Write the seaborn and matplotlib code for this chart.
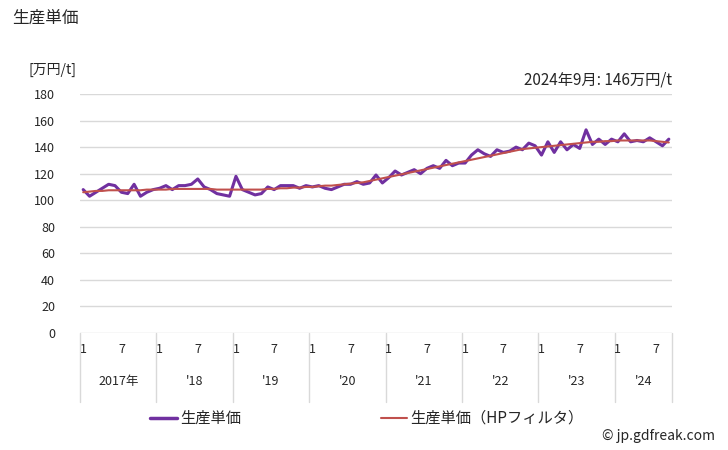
import numpy as np
import pandas as pd
import matplotlib
matplotlib.use('Agg')
import matplotlib.pyplot as plt
import seaborn as sns

# monthly unit price, Jan 2017 - Sep 2024 [万円/t]
price = [
    108, 103, 106, 109, 112, 111, 106, 105, 112, 103, 106, 108,   # 2017
    109, 111, 108, 111, 111, 112, 116, 110, 108, 105, 104, 103,   # 2018
    118, 108, 106, 104, 105, 110, 108, 111, 111, 111, 109, 111,   # 2019
    110, 111, 109, 108, 110, 112, 112, 114, 112, 113, 119, 113,   # 2020
    117, 122, 119, 121, 123, 120, 124, 126, 124, 130, 126, 128,   # 2021
    128, 134, 138, 135, 133, 138, 136, 137, 140, 138, 143, 141,   # 2022
    134, 144, 136, 144, 138, 142, 139, 153, 142, 146, 142, 146,   # 2023
    144, 150, 144, 145, 144, 147, 144, 141, 146,                  # 2024
]
# HP filter trend
trend = [
    106, 106.5, 107, 107, 107.5, 107.5, 107.5, 107.5, 107.5, 107.5, 108, 108,
    108, 108, 108.5, 108.5, 108.5, 108.5, 108.5, 108.5, 108.5, 108, 108, 108,
    108, 108, 108, 108, 108, 108.5, 108.5, 109, 109, 109.5, 109.5, 110,
    110, 110.5, 111, 111, 111.5, 112, 112.5, 113, 113.5, 114.5, 115.5, 116.5,
    117.5, 118.5, 119.5, 120.5, 121.5, 122.5, 123.5, 124.5, 125.5, 126.5, 127.5, 128.5,
    129.5, 130.5, 131.5, 132.5, 133.5, 134.5, 135.5, 136.5, 137.5, 138.5, 139, 139.5,
    140, 140.5, 141, 141.5, 142, 142.5, 143, 143.5, 144, 144, 144.5, 144.5,
    145, 145, 145, 145, 145, 145, 144.5, 144, 143.5,
]
year_labels = ['2017年', "'18", "'19", "'20", "'21", "'22", "'23", "'24"]
month_ticks = ['1', '7']

n = len(price)
df = pd.DataFrame({'idx': np.arange(n), 'price': price, 'trend': trend})

sns.set_style('white')
plt.rcParams['font.family'] = ['Noto Sans CJK JP', 'DejaVu Sans']

fig = plt.figure(figsize=(7.28, 4.5), dpi=100)
ax = fig.add_axes([80 / 728, 1 - 333 / 450, (672 - 80) / 728, (333 - 94) / 450])

sns.lineplot(data=df, x='idx', y='price', ax=ax, color='#7030A0', linewidth=2.2, zorder=3)
sns.lineplot(data=df, x='idx', y='trend', ax=ax, color='#C0504D', linewidth=1.5, zorder=4)

ax.set_xlim(-0.5, n - 0.5)
ax.set_ylim(0, 180)
ax.set_yticks(range(0, 181, 20))
ax.tick_params(axis='y', length=0, labelsize=9, pad=18)
ax.yaxis.grid(True, color='#d9d9d9', linewidth=1)
ax.set_axisbelow(True)
for s in ax.spines.values():
    s.set_visible(False)
ax.set_xlabel('')
ax.set_ylabel('')

# month ticks and year labels
ax.set_xticks([])
tr = ax.get_xaxis_transform()
for y in range(len(year_labels)):
    for k, m in enumerate(month_ticks):
        i = y * 12 + k * 6
        if i < n:
            ax.text(i, -0.07, m, transform=tr, ha='center', va='center', fontsize=9)
    x0 = y * 12 - 0.5
    x1 = min(y * 12 + 11.5, n - 0.5)
    ax.text((x0 + x1) / 2, -0.205, year_labels[y], transform=tr, ha='center', va='center', fontsize=9)
    ax.plot([x0, x0], [0, -0.29], transform=tr, color='#d9d9d9', linewidth=1, clip_on=False)
ax.plot([n - 0.5, n - 0.5], [0, -0.29], transform=tr, color='#d9d9d9', linewidth=1, clip_on=False)

fig.text(12 / 728, 1 - 18 / 450, '生産単価', fontsize=12, va='center', ha='left')
fig.text(28 / 728, 1 - 70 / 450, '[万円/t]', fontsize=10, va='center', ha='left')
fig.text(672 / 728, 1 - 80 / 450, '2024年9月: 146万円/t', fontsize=11, va='center', ha='right')

# legend
fig.add_artist(plt.Line2D([150 / 728, 177 / 728], [1 - 418 / 450] * 2, color='#7030A0', linewidth=2.5))
fig.text(180 / 728, 1 - 418 / 450, '生産単価', fontsize=11, va='center', ha='left')
fig.add_artist(plt.Line2D([381 / 728, 407 / 728], [1 - 418 / 450] * 2, color='#C0504D', linewidth=1.5))
fig.text(410 / 728, 1 - 418 / 450, '生産単価（HPフィルタ）', fontsize=11, va='center', ha='left')
fig.text(715 / 728, 1 - 436 / 450, '© jp.gdfreak.com', fontsize=10, va='center', ha='right')

fig.savefig('out.png', dpi=100, facecolor='white')
